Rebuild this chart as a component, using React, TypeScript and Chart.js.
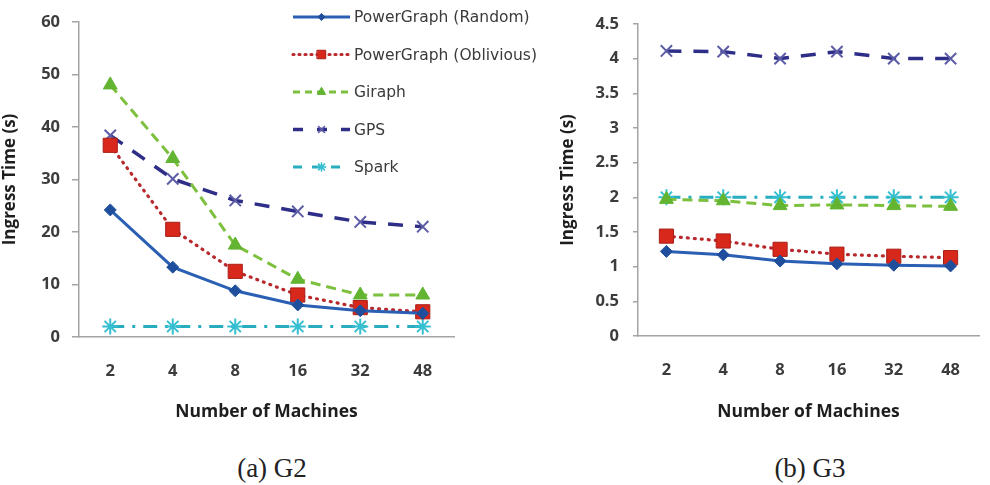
import React, { useEffect, useRef } from "react";
import { Chart, registerables } from "chart.js";
import { drawPoint } from "chart.js/helpers";

Chart.register(...registerables);

// ---- data ----
const machines = ["2", "4", "8", "16", "32", "48"];
const seriesNames = ["PowerGraph (Random)", "PowerGraph (Oblivious)", "Giraph", "GPS", "Spark"];

const g2Random = [24.2, 13.3, 8.8, 6.1, 5.0, 4.5];
const g2Oblivious = [36.5, 20.5, 12.5, 8.0, 5.6, 4.8];
const g2Giraph = [48, 34, 17.5, 11, 8, 8];
const g2GPS = [38.4, 30.1, 26, 23.9, 21.9, 21];
const g2Spark = [2, 2, 2, 2, 2, 2];

const g3Random = [1.22, 1.17, 1.08, 1.04, 1.02, 1.01];
const g3Oblivious = [1.44, 1.37, 1.25, 1.18, 1.15, 1.13];
const g3Giraph = [1.97, 1.95, 1.88, 1.89, 1.88, 1.87];
const g3GPS = [4.11, 4.1, 4.0, 4.1, 4.0, 4.0];
const g3Spark = [2.0, 2.0, 2.0, 2.0, 2.0, 2.0];

const g2Ticks = { min: 0, max: 60, step: 10 };
const g3Ticks = { min: 0, max: 4.5, step: 0.5 };

// ---- styles ----
const styles = [
  { color: "#2a5fb4", point: "#1f4f9c", pointBorder: "#1f4f9c", style: "rectRot", radius: 6, dash: [], cap: "butt", width: 3 },
  { color: "#b8282c", point: "#d8281c", pointBorder: "#a81f18", style: "rect", radius: 10, dash: [1, 6], cap: "round", width: 3.2 },
  { color: "#7dc03e", point: "#62b431", pointBorder: "#62b431", style: "triangle", radius: 8, dash: [10, 6], cap: "butt", width: 3 },
  { color: "#2e2e88", point: "#5d5ca6", pointBorder: "#5d5ca6", style: "crossRot", radius: 8, dash: [15, 12], cap: "butt", width: 3.5 },
  { color: "#27adbd", point: "#35bfd0", pointBorder: "#35bfd0", style: "star", radius: 8, dash: [14, 8, 3, 8], cap: "butt", width: 3 },
];

const axisColor = "#a4a4a4";
const tickColor = "#3c3c3c";
const titleColor = "#1e1e1e";
const tickFont = { family: "'Open Sans'", size: 16.5, weight: "bold" as const };
const yTitleFont = { family: "'Open Sans'", size: 17, weight: "bold" as const };
const xTitleFont = { family: "'Open Sans'", size: 17.5, weight: "bold" as const };

function makeDatasets(values: number[][]) {
  return values.map((v, i) => {
    const s = styles[i];
    return {
      label: seriesNames[i],
      data: v,
      borderColor: s.color,
      backgroundColor: s.point,
      borderWidth: s.width,
      borderDash: s.dash,
      borderCapStyle: s.cap,
      pointStyle: s.style,
      pointRadius: s.radius,
      pointBackgroundColor: s.point,
      pointBorderColor: s.pointBorder,
      pointBorderWidth: s.style === "crossRot" || s.style === "star" ? 2 : 1,
      tension: 0,
      fill: false,
    };
  });
}

const legendPlugin = {
  id: "customLegend",
  afterDraw(chart: any, _args: any, opts: any) {
    if (!opts || !opts.show) return;
    const ctx = chart.ctx as CanvasRenderingContext2D;
    ctx.save();
    chart.data.datasets.forEach((ds: any, i: number) => {
      const s = styles[i];
      const y = opts.y0 + i * opts.dy;
      ctx.beginPath();
      ctx.setLineDash(opts.dashes[i]);
      ctx.lineCap = s.cap as CanvasLineCap;
      ctx.strokeStyle = s.color;
      ctx.lineWidth = s.width;
      ctx.moveTo(opts.x0, y);
      ctx.lineTo(opts.x1, y);
      ctx.stroke();
      ctx.setLineDash([]);
      ctx.fillStyle = s.point;
      ctx.strokeStyle = s.pointBorder;
      const bw = s.style === "crossRot" || s.style === "star" ? 1.5 : 1;
      ctx.lineWidth = bw;
      drawPoint(ctx, { pointStyle: s.style as any, radius: s.radius * 0.6, rotation: 0, borderWidth: bw }, (opts.x0 + opts.x1) / 2, y);
      ctx.fillStyle = "#3a3a3a";
      ctx.font = "15.5px 'DejaVu Sans'";
      ctx.textBaseline = "middle";
      ctx.textAlign = "left";
      ctx.fillText(ds.label, opts.tx, y + 1);
    });
    ctx.restore();
  },
};

type PanelProps = {
  values: number[][];
  ticks: { min: number; max: number; step: number };
  width: number;
  height: number;
  yWidth: number;
  xHeight: number;
  padTop: number;
  padRight: number;
  yTitlePad: number;
  yTickPad: number;
  yTickLen: number;
  legend?: any;
};

function Panel(p: PanelProps) {
  const ref = useRef<HTMLCanvasElement | null>(null);
  useEffect(() => {
    if (!ref.current) return;
    const chart = new Chart(ref.current, {
      type: "line",
      data: { labels: machines, datasets: makeDatasets(p.values) as any },
      plugins: [legendPlugin],
      options: {
        animation: false,
        responsive: false,
        devicePixelRatio: 1,
        layout: { padding: { top: p.padTop, right: p.padRight, left: 0, bottom: 0 } },
        plugins: {
          legend: { display: false },
          tooltip: { enabled: false },
          customLegend: p.legend || { show: false },
        } as any,
        scales: {
          x: {
            type: "category",
            offset: true,
            grid: { display: false, drawTicks: false },
            border: { display: true, color: axisColor, width: 1.5 },
            ticks: { padding: 24, color: tickColor, font: tickFont, maxRotation: 0 },
            title: {
              display: true,
              text: "Number of Machines",
              color: titleColor,
              font: xTitleFont,
              padding: { top: 0, bottom: 17 },
            },
            afterFit: (s: any) => {
              s.height = p.xHeight;
            },
          },
          y: {
            min: p.ticks.min,
            max: p.ticks.max,
            ticks: {
              stepSize: p.ticks.step,
              padding: p.yTickPad,
              color: tickColor,
              font: tickFont,
              callback: (v: any) => String(Math.round(Number(v) * 100) / 100),
            },
            grid: {
              drawOnChartArea: false,
              drawTicks: true,
              tickLength: p.yTickLen,
              color: axisColor,
              lineWidth: 1.5,
            },
            border: { display: true, color: axisColor, width: 1.5 },
            title: {
              display: true,
              text: "Ingress Time (s)",
              color: titleColor,
              font: yTitleFont,
              padding: { top: p.yTitlePad, bottom: 0 },
            },
            afterFit: (s: any) => {
              s.width = p.yWidth;
            },
          },
        },
      } as any,
    });
    return () => chart.destroy();
  }, []);
  return <canvas ref={ref} width={p.width} height={p.height} style={{ width: p.width, height: p.height, display: "block" }} />;
}

const captionStyle: React.CSSProperties = {
  position: "absolute",
  top: 451,
  fontFamily: "'Liberation Serif', 'Times New Roman', serif",
  fontSize: 27,
  color: "#222",
  width: 200,
  textAlign: "center",
  lineHeight: "34px",
};

export default function App() {
  return (
    <div style={{ position: "absolute", left: 0, top: 0, width: 990, height: 485, background: "#fff", overflow: "hidden" }}>
      <div style={{ position: "absolute", left: 0, top: 0 }}>
        <Panel
          values={[g2Random, g2Oblivious, g2Giraph, g2GPS, g2Spark]}
          ticks={g2Ticks}
          width={555}
          height={440}
          yWidth={79}
          xHeight={103}
          padTop={15}
          padRight={101}
          yTitlePad={0}
          yTickPad={12}
          yTickLen={7}
          legend={{
            show: true,
            x0: 293,
            x1: 350,
            tx: 354,
            y0: 17,
            dy: 37.5,
            dashes: [[], [1, 5], [7, 5], [10, 14], [9, 10]],
          }}
        />
      </div>
      <div style={{ position: "absolute", left: 555, top: 0 }}>
        <Panel
          values={[g3Random, g3Oblivious, g3Giraph, g3GPS, g3Spark]}
          ticks={g3Ticks}
          width={435}
          height={440}
          yWidth={83}
          xHeight={104}
          padTop={14}
          padRight={1}
          yTitlePad={3}
          yTickPad={14}
          yTickLen={5}
        />
      </div>
      <div style={{ ...captionStyle, left: 172 }}>(a) G2</div>
      <div style={{ ...captionStyle, left: 710 }}>(b) G3</div>
    </div>
  );
}
